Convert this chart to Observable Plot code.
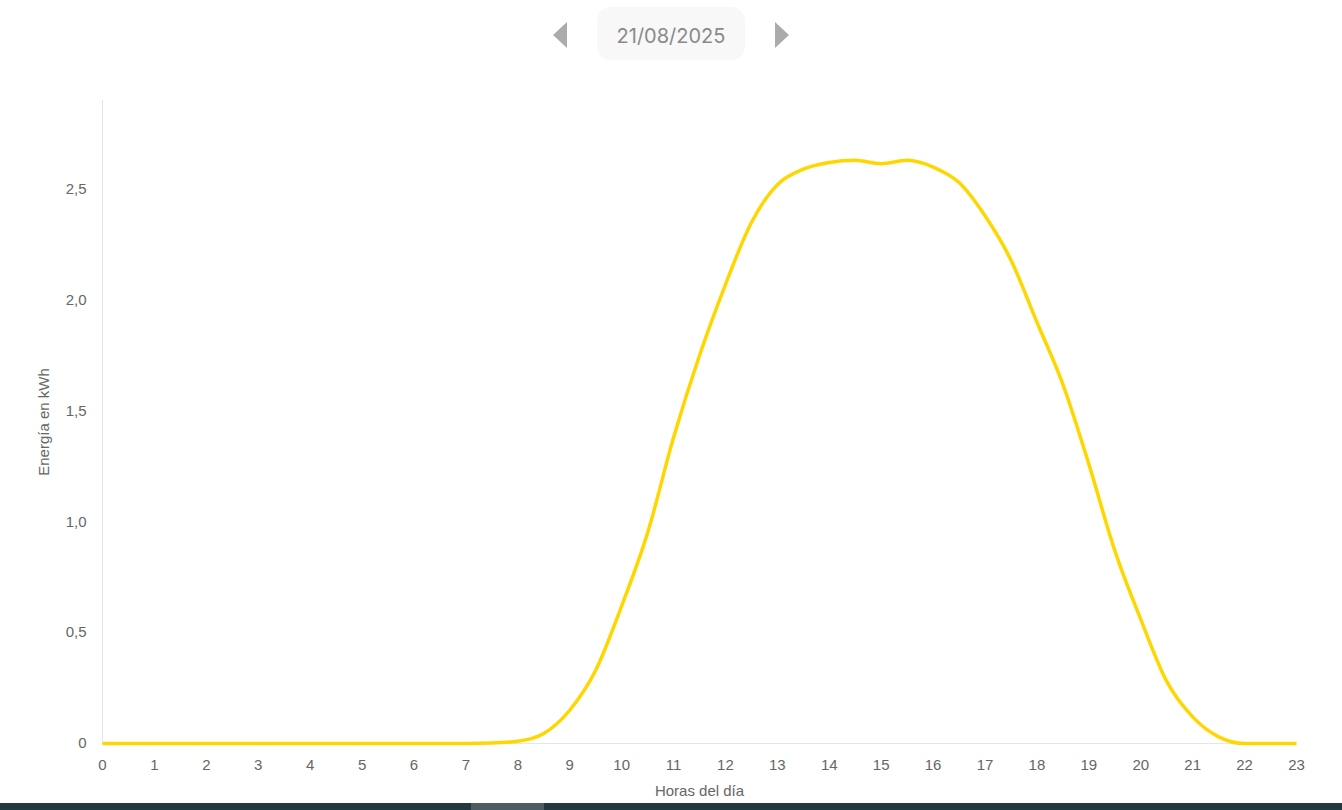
<!DOCTYPE html>
<html>
<head>
<meta charset="utf-8">
<script src="https://cdn.jsdelivr.net/npm/d3@7"></script>
<script src="https://cdn.jsdelivr.net/npm/@observablehq/plot@0.6"></script>
<style>
  html, body { margin: 0; padding: 0; background: #fff; width: 1342px; height: 810px; overflow: hidden; position: relative; font-family: "Liberation Sans", Arial, sans-serif; }
  #chart { position: absolute; left: 0; top: 0; }
  #datebox { position: absolute; left: 597px; top: 7px; width: 148px; height: 53px; box-sizing: border-box; padding-top: 4px; background: #f8f8f8; border-radius: 14px;
    display: flex; align-items: center; justify-content: center; font-family: Inter, "Open Sans", sans-serif; font-size: 20px; color: #8a8a8a; }
  .tri { position: absolute; width: 0; height: 0; border-top: 13px solid transparent; border-bottom: 13px solid transparent; }
  #prev { left: 553px; top: 22px; border-right: 14px solid #ababab; }
  #next { left: 775px; top: 22px; border-left: 14px solid #ababab; }
  #bar { position: absolute; left: 0; top: 803px; width: 1342px; height: 7px; background: #233840; }
  #barseg { position: absolute; left: 471px; top: 803px; width: 73px; height: 7px; background: #4c5d63; }
</style>
</head>
<body>
<div id="chart"></div>
<div class="tri" id="prev"></div>
<div id="datebox">21/08/2025</div>
<div class="tri" id="next"></div>
<div id="bar"></div>
<div id="barseg"></div>
<script>
const dateLabel = "21/08/2025";
const yTitle = "Energía en kWh";
const xTitle = "Horas del día";
const hours = [0,0.5,1,1.5,2,2.5,3,3.5,4,4.5,5,5.5,6,6.5,7,7.5,8,8.5,9,9.5,10,10.5,11,11.5,12,12.5,13,13.5,14,14.5,15,15.5,16,16.5,17,17.5,18,18.5,19,19.5,20,20.5,21,21.5,22,22.5,23];
const energy = [0,0,0,0,0,0,0,0,0,0,0,0,0,0,0,0.002,0.01,0.045,0.15,0.33,0.62,0.95,1.38,1.75,2.07,2.35,2.52,2.59,2.62,2.63,2.615,2.63,2.60,2.53,2.38,2.18,1.90,1.62,1.26,0.87,0.56,0.28,0.12,0.03,0,0,0];
const xTicks = d3.range(0, 24);
const yTicks = [0, 0.5, 1, 1.5, 2, 2.5];

const data = hours.map((h, i) => ({hour: h, value: energy[i]}));
const fmtY = d => d === 0 ? "0" : d.toFixed(1).replace(".", ",");

const chart = Plot.plot({
  width: 1342,
  height: 803,
  marginTop: 100,
  marginLeft: 102,
  marginRight: 46,
  marginBottom: 60,
  style: {fontFamily: '"Liberation Sans", Arial, sans-serif', fontSize: "15px", color: "#666", background: "transparent"},
  x: {domain: [0, 23]},
  y: {domain: [0, 2.9]},
  marks: [
    Plot.ruleX([0], {stroke: "#e6e6e6", strokeWidth: 1}),
    Plot.ruleY([0], {stroke: "#e6e6e6", strokeWidth: 1}),
    Plot.axisX({ticks: xTicks, tickFormat: d => String(d), tickSize: 0, tickPadding: 16, label: null, fill: "#666", fontSize: 15}),
    Plot.axisY({ticks: yTicks, tickFormat: fmtY, tickSize: 0, tickPadding: 16, label: null, fill: "#666", fontSize: 15}),
    Plot.axisY({ticks: [], tickSize: 0, label: yTitle, labelAnchor: "center", labelArrow: "none", labelOffset: 64, fill: "#666", fontSize: 15}),
    Plot.line(data, {x: "hour", y: "value", stroke: "#FFD700", strokeWidth: 3.5, curve: "monotone-x", strokeLinejoin: "round", strokeLinecap: "butt"}),
    Plot.text([xTitle], {frameAnchor: "bottom", dy: 52, fill: "#666", fontSize: 15})
  ]
});
document.getElementById("chart").appendChild(chart);
</script>
</body>
</html>
